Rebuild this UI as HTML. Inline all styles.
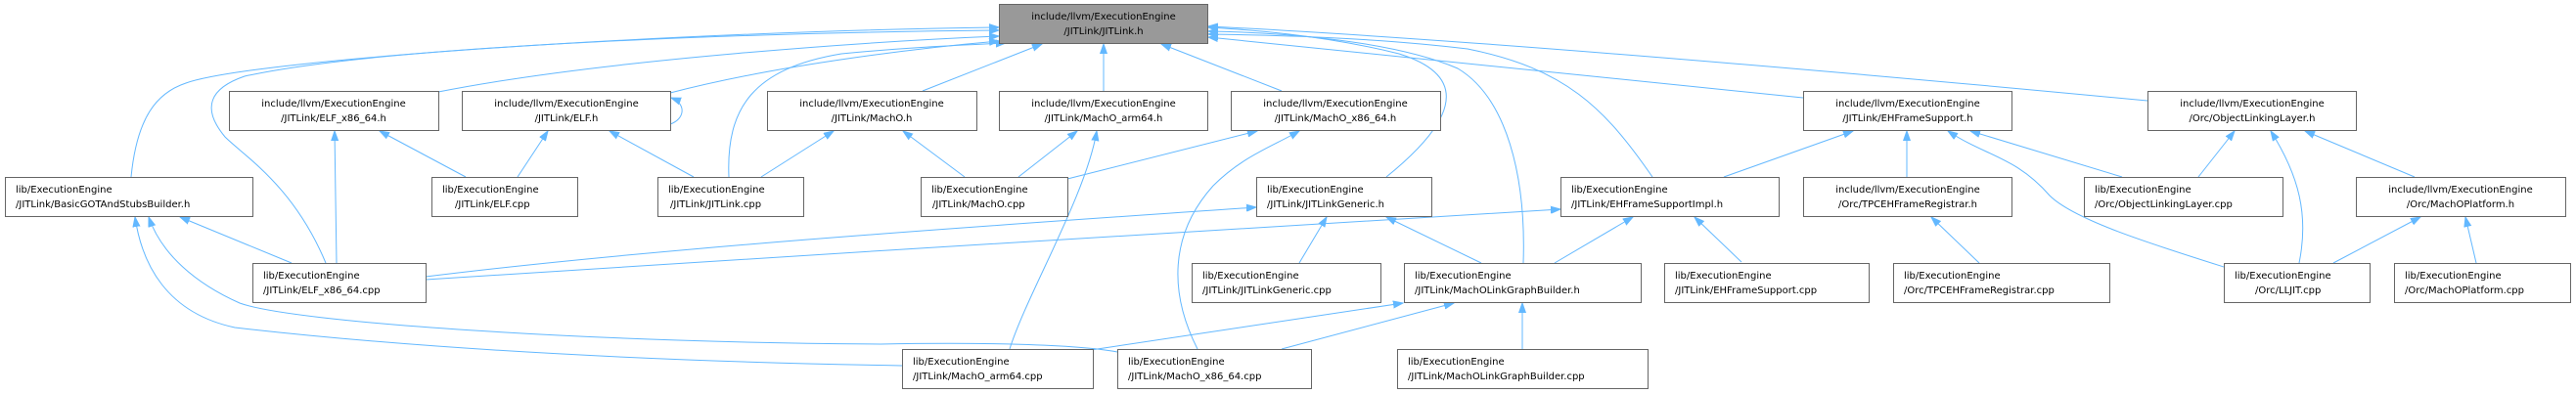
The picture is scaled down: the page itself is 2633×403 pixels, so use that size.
<!DOCTYPE html>
<html><head><meta charset="utf-8"><style>
html,body{margin:0;padding:0;background:#fff;}
svg{display:block;}
text{font-family:"DejaVu Sans","Liberation Sans",sans-serif;font-size:10px;fill:#000;}
.n{fill:#fff;stroke:#666;stroke-width:1;}
.r{fill:#999;stroke:#666;stroke-width:1;}
.e{fill:none;stroke:#63b8ff;stroke-width:1;}
</style></head><body>
<svg width="2633" height="403" viewBox="0 0 2633 403" xmlns="http://www.w3.org/2000/svg">
<defs><marker id="a" markerUnits="userSpaceOnUse" markerWidth="11" markerHeight="9" refX="10" refY="4" orient="auto"><path d="M0,0.5 L10,4 L0,7.5 z" fill="#63b8ff" stroke="#63b8ff"/></marker></defs>
<g marker-end="url(#a)">
<path class="e" d="M134,181 C140,120 160,95 190,85 C260,60 700,32 1021,28"/>
<path class="e" d="M333,269 C300,190 250,160 230,140 C205,110 215,90 250,78 C400,45 800,33 1021,31"/>
<path class="e" d="M448,94 C620,60 900,42 1021,37"/>
<path class="e" d="M685,95 C800,65 950,48 1021,42"/>
<path class="e" d="M745,181 C742,110 770,70 860,55 C930,48 990,46 1028,44"/>
<path class="e" d="M943,93 L1065,45"/>
<path class="e" d="M1128,93 L1128,45"/>
<path class="e" d="M1310,93 L1187,45"/>
<path class="e" d="M1417,181 C1480,130 1510,80 1430,55 C1350,35 1270,30 1235,28"/>
<path class="e" d="M1557,269 C1560,180 1540,100 1490,70 C1420,40 1300,33 1235,32"/>
<path class="e" d="M1689,181 C1640,110 1600,70 1500,50 C1400,38 1300,36 1235,35"/>
<path class="e" d="M1843,100 L1235,38"/>
<path class="e" d="M2195,103 C1900,75 1500,40 1235,27"/>
<path class="e" d="M685,127 C700,122 702,106 686,100"/>
<path class="e" d="M435,283 C700,250 1100,225 1284,212"/>
<path class="e" d="M435,286 C800,260 1300,235 1595,214"/>
<path class="e" d="M709,181 L623,134"/>
<path class="e" d="M529,181 L560,134"/>
<path class="e" d="M476,181 L388,134"/>
<path class="e" d="M344,269 L342,134"/>
<path class="e" d="M298,269 L184,222"/>
<path class="e" d="M922,374 C800,372 500,365 240,335 C170,320 145,270 138,222"/>
<path class="e" d="M1142,360 C1100,352 1000,350 900,352 C600,350 300,330 245,310 C200,290 165,260 152,222"/>
<path class="e" d="M778,181 L852,134"/>
<path class="e" d="M986,181 L923,134"/>
<path class="e" d="M1041,181 L1101,134"/>
<path class="e" d="M1091,183 L1285,134"/>
<path class="e" d="M1032,357 C1050,300 1110,200 1121,134"/>
<path class="e" d="M1224,357 C1195,300 1195,240 1240,190 C1270,160 1300,150 1328,134"/>
<path class="e" d="M1328,269 L1356,222"/>
<path class="e" d="M1514,269 L1417,222"/>
<path class="e" d="M1589,269 L1669,222"/>
<path class="e" d="M1780,268 L1732,222"/>
<path class="e" d="M1115,358 L1434,310"/>
<path class="e" d="M1310,357 L1486,310"/>
<path class="e" d="M1556,357 L1556,310"/>
<path class="e" d="M1762,181 L1894,134"/>
<path class="e" d="M1949,181 L1949,134"/>
<path class="e" d="M2273,273 C2200,250 2120,225 2095,200 C2060,160 2030,160 1991,134"/>
<path class="e" d="M2169,181 L2014,134"/>
<path class="e" d="M2247,181 L2284,134"/>
<path class="e" d="M2350,269 C2360,220 2350,180 2321,134"/>
<path class="e" d="M2468,181 L2356,134"/>
<path class="e" d="M2385,269 L2474,222"/>
<path class="e" d="M2531,269 L2520,222"/>
<path class="e" d="M2023,269 L1974,222"/>
</g>
<!-- root -->
<rect class="r" x="1021.5" y="4.5" width="213" height="40"/>
<text x="1128" y="20" text-anchor="middle">include/llvm/ExecutionEngine</text>
<text x="1128" y="35" text-anchor="middle">/JITLink/JITLink.h</text>
<!-- row1 -->
<rect class="n" x="234.5" y="93.5" width="214" height="40"/>
<text x="341" y="109" text-anchor="middle">include/llvm/ExecutionEngine</text>
<text x="341" y="124" text-anchor="middle">/JITLink/ELF_x86_64.h</text>
<rect class="n" x="472.5" y="93.5" width="213" height="40"/>
<text x="579" y="109" text-anchor="middle">include/llvm/ExecutionEngine</text>
<text x="579" y="124" text-anchor="middle">/JITLink/ELF.h</text>
<rect class="n" x="784.5" y="93.5" width="214" height="40"/>
<text x="891" y="109" text-anchor="middle">include/llvm/ExecutionEngine</text>
<text x="891" y="124" text-anchor="middle">/JITLink/MachO.h</text>
<rect class="n" x="1021.5" y="93.5" width="213" height="40"/>
<text x="1128" y="109" text-anchor="middle">include/llvm/ExecutionEngine</text>
<text x="1128" y="124" text-anchor="middle">/JITLink/MachO_arm64.h</text>
<rect class="n" x="1258.5" y="93.5" width="214" height="40"/>
<text x="1365" y="109" text-anchor="middle">include/llvm/ExecutionEngine</text>
<text x="1365" y="124" text-anchor="middle">/JITLink/MachO_x86_64.h</text>
<rect class="n" x="1843.5" y="93.5" width="213" height="40"/>
<text x="1950" y="109" text-anchor="middle">include/llvm/ExecutionEngine</text>
<text x="1950" y="124" text-anchor="middle">/JITLink/EHFrameSupport.h</text>
<rect class="n" x="2195.5" y="93.5" width="213" height="40"/>
<text x="2302" y="109" text-anchor="middle">include/llvm/ExecutionEngine</text>
<text x="2302" y="124" text-anchor="middle">/Orc/ObjectLinkingLayer.h</text>
<!-- row2 -->
<rect class="n" x="5.5" y="181.5" width="253" height="40"/>
<text x="16" y="197">lib/ExecutionEngine</text>
<text x="16" y="212">/JITLink/BasicGOTAndStubsBuilder.h</text>
<rect class="n" x="441.5" y="181.5" width="149" height="40"/>
<text x="452" y="197">lib/ExecutionEngine</text>
<text x="465" y="212">/JITLink/ELF.cpp</text>
<rect class="n" x="672.5" y="181.5" width="149" height="40"/>
<text x="683" y="197">lib/ExecutionEngine</text>
<text x="685" y="212">/JITLink/JITLink.cpp</text>
<rect class="n" x="941.5" y="181.5" width="150" height="40"/>
<text x="952" y="197">lib/ExecutionEngine</text>
<text x="953" y="212">/JITLink/MachO.cpp</text>
<rect class="n" x="1284.5" y="181.5" width="179" height="40"/>
<text x="1295" y="197">lib/ExecutionEngine</text>
<text x="1295" y="212">/JITLink/JITLinkGeneric.h</text>
<rect class="n" x="1595.5" y="181.5" width="223" height="40"/>
<text x="1606" y="197">lib/ExecutionEngine</text>
<text x="1606" y="212">/JITLink/EHFrameSupportImpl.h</text>
<rect class="n" x="1843.5" y="181.5" width="213" height="40"/>
<text x="1950" y="197" text-anchor="middle">include/llvm/ExecutionEngine</text>
<text x="1950" y="212" text-anchor="middle">/Orc/TPCEHFrameRegistrar.h</text>
<rect class="n" x="2130.5" y="181.5" width="203" height="40"/>
<text x="2141" y="197">lib/ExecutionEngine</text>
<text x="2141" y="212">/Orc/ObjectLinkingLayer.cpp</text>
<rect class="n" x="2408.5" y="181.5" width="214" height="40"/>
<text x="2515" y="197" text-anchor="middle">include/llvm/ExecutionEngine</text>
<text x="2515" y="212" text-anchor="middle">/Orc/MachOPlatform.h</text>
<!-- row3 -->
<rect class="n" x="258.5" y="269.5" width="177" height="40"/>
<text x="269" y="285">lib/ExecutionEngine</text>
<text x="269" y="300">/JITLink/ELF_x86_64.cpp</text>
<rect class="n" x="1218.5" y="269.5" width="193" height="40"/>
<text x="1229" y="285">lib/ExecutionEngine</text>
<text x="1229" y="300">/JITLink/JITLinkGeneric.cpp</text>
<rect class="n" x="1435.5" y="269.5" width="242" height="40"/>
<text x="1446" y="285">lib/ExecutionEngine</text>
<text x="1446" y="300">/JITLink/MachOLinkGraphBuilder.h</text>
<rect class="n" x="1701.5" y="269.5" width="209" height="40"/>
<text x="1712" y="285">lib/ExecutionEngine</text>
<text x="1712" y="300">/JITLink/EHFrameSupport.cpp</text>
<rect class="n" x="1935.5" y="269.5" width="221" height="40"/>
<text x="1946" y="285">lib/ExecutionEngine</text>
<text x="1946" y="300">/Orc/TPCEHFrameRegistrar.cpp</text>
<rect class="n" x="2273.5" y="269.5" width="149" height="40"/>
<text x="2284" y="285">lib/ExecutionEngine</text>
<text x="2305" y="300">/Orc/LLJIT.cpp</text>
<rect class="n" x="2447.5" y="269.5" width="180" height="40"/>
<text x="2458" y="285">lib/ExecutionEngine</text>
<text x="2458" y="300">/Orc/MachOPlatform.cpp</text>
<!-- row4 -->
<rect class="n" x="922.5" y="357.5" width="195" height="40"/>
<text x="933" y="373">lib/ExecutionEngine</text>
<text x="933" y="388">/JITLink/MachO_arm64.cpp</text>
<rect class="n" x="1142.5" y="357.5" width="198" height="40"/>
<text x="1153" y="373">lib/ExecutionEngine</text>
<text x="1153" y="388">/JITLink/MachO_x86_64.cpp</text>
<rect class="n" x="1428.5" y="357.5" width="256" height="40"/>
<text x="1439" y="373">lib/ExecutionEngine</text>
<text x="1439" y="388">/JITLink/MachOLinkGraphBuilder.cpp</text>
</svg>
</body></html>
